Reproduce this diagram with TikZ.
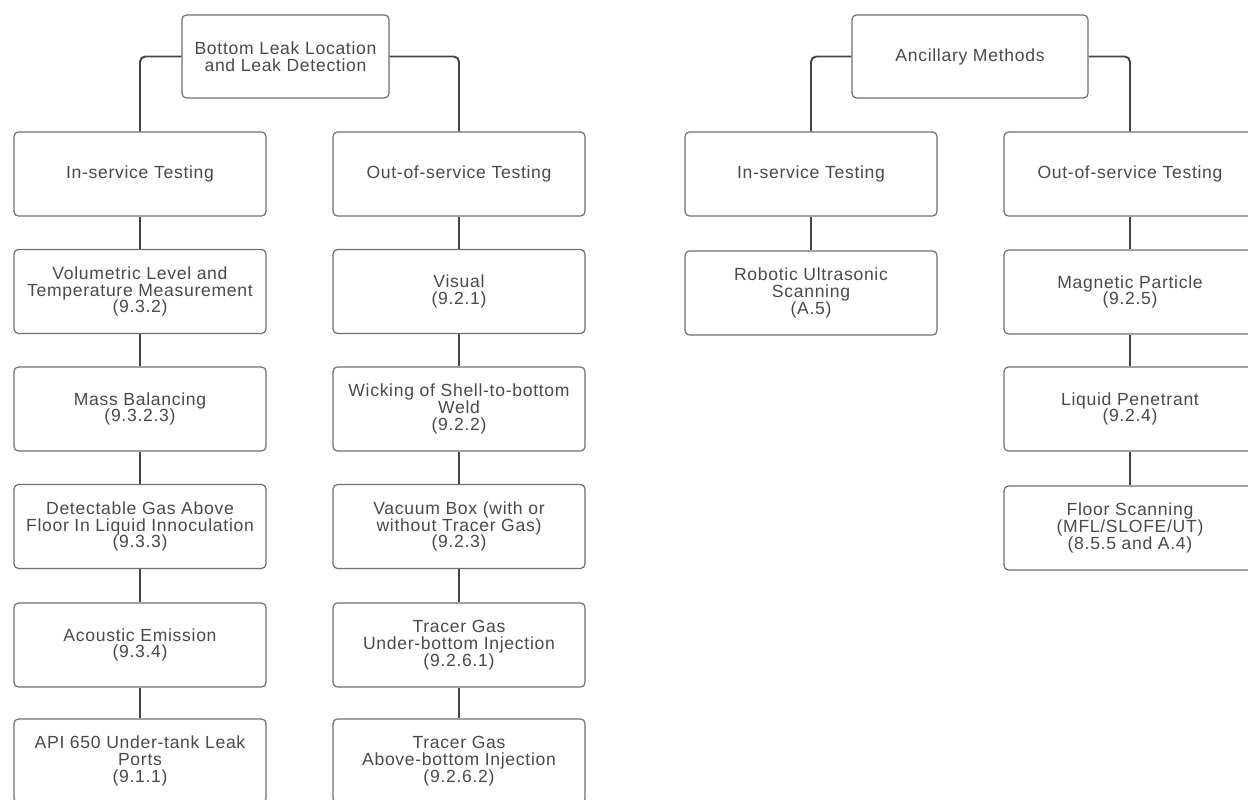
\documentclass[tikz,border=0pt]{standalone}
\usepackage{fontspec}
\setmainfont{Liberation Sans}[LetterSpace=4]
\usepackage{xcolor}
\usetikzlibrary{positioning}
\definecolor{boxgray}{HTML}{707070}
\definecolor{linkgray}{HTML}{40454A}
\definecolor{textgray}{HTML}{4A4A4A}
\tikzset{
  tbox/.style={rectangle, rounded corners=2.5pt, draw=boxgray, line width=0.7pt, fill=white,
    minimum width=5.04cm, minimum height=1.68cm, align=center, text=textgray,
    font=\fontsize{10}{9.6}\selectfont, inner sep=1pt},
  rootbox/.style={tbox, minimum height=1.66cm},
  link/.style={draw=linkgray, line width=1.1pt, rounded corners=3pt}
}
\begin{document}
\begin{tikzpicture}[x=0.02cm, y=-0.02cm]
\useasboundingbox (0,0) rectangle (1248,800);
\clip (0,0) rectangle (1248,800);

% left tree
\node[rootbox, minimum width=4.14cm] (rootL) at (285.5,56.5) {Bottom Leak Location\\and Leak Detection};

\node[tbox] (inL) at (140,174) {In-service Testing};
\node[tbox] (vol) at (140,291.5) {Volumetric Level and\\Temperature Measurement\\(9.3.2)};
\node[tbox] (mass) at (140,409) {Mass Balancing\\(9.3.2.3)};
\node[tbox] (gas) at (140,526.5) {Detectable Gas Above\\Floor In Liquid Innoculation\\(9.3.3)};
\node[tbox] (acou) at (140,645) {Acoustic Emission\\(9.3.4)};
\node[tbox] (api) at (140,761) {API 650 Under-tank Leak\\Ports\\(9.1.1)};

\node[tbox] (outL) at (459,174) {Out-of-service Testing};
\node[tbox] (vis) at (459,291.5) {Visual\\(9.2.1)};
\node[tbox] (wick) at (459,409) {Wicking of Shell-to-bottom\\Weld\\(9.2.2)};
\node[tbox] (vac) at (459,526.5) {Vacuum Box (with or\\without Tracer Gas)\\(9.2.3)};
\node[tbox] (tgu) at (459,645) {Tracer Gas\\Under-bottom Injection\\(9.2.6.1)};
\node[tbox] (tga) at (459,761) {Tracer Gas\\Above-bottom Injection\\(9.2.6.2)};

% right tree
\node[rootbox, minimum width=4.72cm] (rootR) at (970,56.5) {Ancillary Methods};

\node[tbox] (inR) at (811,174) {In-service Testing};
\node[tbox] (robo) at (811,293) {Robotic Ultrasonic\\Scanning\\(A.5)};

\node[tbox] (outR) at (1130,174) {Out-of-service Testing};
\node[tbox] (magn) at (1130,292) {Magnetic Particle\\(9.2.5)};
\node[tbox] (liqp) at (1130,409) {Liquid Penetrant\\(9.2.4)};
\node[tbox] (floor) at (1130,528) {Floor Scanning\\(MFL/SLOFE/UT)\\(8.5.5 and A.4)};

% connectors
\draw[link] (rootL.west) -| (inL.north);
\draw[link] (rootL.east) -| (outL.north);
\draw[link] (rootR.west) -| (inR.north);
\draw[link] (rootR.east) -| (outR.north);

\draw[link] (inL) -- (vol);
\draw[link] (vol) -- (mass);
\draw[link] (mass) -- (gas);
\draw[link] (gas) -- (acou);
\draw[link] (acou) -- (api);

\draw[link] (outL) -- (vis);
\draw[link] (vis) -- (wick);
\draw[link] (wick) -- (vac);
\draw[link] (vac) -- (tgu);
\draw[link] (tgu) -- (tga);

\draw[link] (inR) -- (robo);
\draw[link] (outR) -- (magn);
\draw[link] (magn) -- (liqp);
\draw[link] (liqp) -- (floor);
\end{tikzpicture}
\end{document}
